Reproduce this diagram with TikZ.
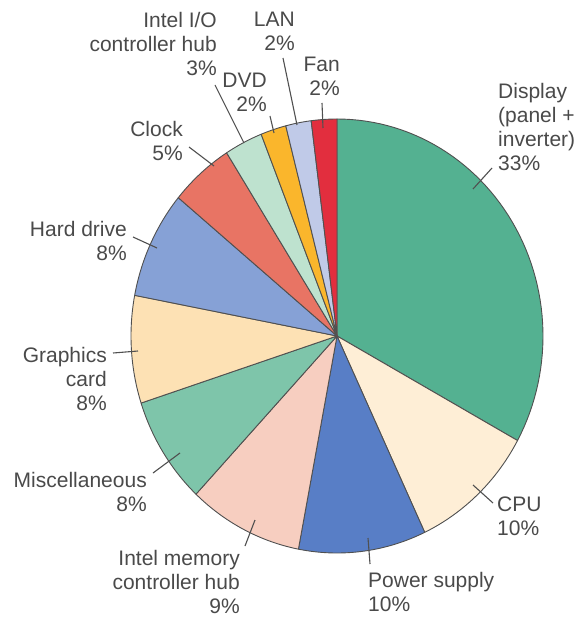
\documentclass[tikz,border=0pt]{standalone}
\usepackage{fontspec}
\setmainfont{Liberation Sans}
\definecolor{cDisplay}{RGB}{84,177,145}
\definecolor{cCPU}{RGB}{254,238,214}
\definecolor{cPower}{RGB}{88,126,198}
\definecolor{cMem}{RGB}{247,206,192}
\definecolor{cMisc}{RGB}{126,197,170}
\definecolor{cGraph}{RGB}{253,225,180}
\definecolor{cHDD}{RGB}{134,161,214}
\definecolor{cClock}{RGB}{232,116,100}
\definecolor{cIO}{RGB}{190,226,207}
\definecolor{cDVD}{RGB}{250,182,44}
\definecolor{cLAN}{RGB}{192,202,232}
\definecolor{cFan}{RGB}{226,46,62}
\definecolor{edge}{RGB}{80,80,80}
\definecolor{txt}{RGB}{74,74,74}
\tikzset{
  lbl/.style={inner sep=0pt, text=txt, font=\fontsize{21}{24}\selectfont},
  lblr/.style={lbl, anchor=north east, align=right},
  lbll/.style={lbl, anchor=north west, align=left},
  leader/.style={draw=edge, line width=1.1pt},
  wedge/.style={draw=edge, line width=0.9pt, line join=round}
}
\newcommand{\pieslice}[3]{%
  \path[wedge, fill=#1] (337,336) -- plot[domain=#2:#3, samples=60] ({337+206*cos(\x)},{336-217*sin(\x)}) -- cycle;}
\begin{document}
\begin{tikzpicture}[x=1pt,y=-1pt]
\useasboundingbox (0,0) rectangle (581,617);
\fill[white] (0,0) rectangle (581,617);
% slices
\pieslice{cDisplay}{90}{-28.8}
\pieslice{cCPU}{-28.8}{-64.8}
\pieslice{cPower}{-64.8}{-100.8}
\pieslice{cMem}{-100.8}{-133.2}
\pieslice{cMisc}{-133.2}{-162}
\pieslice{cGraph}{-162}{-190.8}
\pieslice{cHDD}{-190.8}{-219.6}
\pieslice{cClock}{-219.6}{-237.6}
\pieslice{cIO}{-237.6}{-248.4}
\pieslice{cDVD}{-248.4}{-255.6}
\pieslice{cLAN}{-255.6}{-262.8}
\pieslice{cFan}{-262.8}{-270}
% labels
\node[lblr] (io) at (217,11.8) {Intel I/O\\controller hub\\3\%};
\node[lblr] (lan) at (295,11.8) {LAN\\2\%};
\node[lblr] (dvd) at (267,72.8) {DVD\\2\%};
\node[lblr] (fan) at (340,56.8) {Fan\\2\%};
\node[lbll] (disp) at (498,82.8) {Display\\(panel +\\inverter)\\33\%};
\node[lblr] (clock) at (183,120.8) {Clock\\5\%};
\node[lblr] (hdd) at (127,220.8) {Hard drive\\8\%};
\node[lblr] (graph) at (107,346.8) {Graphics\\card\\8\%};
\node[lblr] (misc) at (147,471.8) {Miscellaneous\\8\%};
\node[lblr] (mem) at (240,550) {Intel memory\\controller hub\\9\%};
\node[lbll] (power) at (368,572) {Power supply\\10\%};
\node[lbll] (cpu) at (497,496.8) {CPU\\10\%};
% leader end points
\coordinate (ioA) at (215,85);   \coordinate (ioB) at (244,143);
\coordinate (lanA) at (283,58);  \coordinate (lanB) at (297,125);
\coordinate (dvdA) at (270,116); \coordinate (dvdB) at (274,133);
\coordinate (fanA) at (322,103); \coordinate (fanB) at (323,128);
\coordinate (dispA) at (492,168); \coordinate (dispB) at (473,189);
\coordinate (clockA) at (189,147); \coordinate (clockB) at (214,166);
\coordinate (hddA) at (133,237); \coordinate (hddB) at (157,248);
\coordinate (graphA) at (113,353); \coordinate (graphB) at (138,351);
\coordinate (miscA) at (153,473); \coordinate (miscB) at (180,453);
\coordinate (memA) at (245,546); \coordinate (memB) at (255,520);
\coordinate (powerA) at (370,564); \coordinate (powerB) at (368,538);
\coordinate (cpuA) at (493,503); \coordinate (cpuB) at (473,485);
\foreach \n in {io,lan,dvd,fan,disp,clock,hdd,graph,misc,mem,power,cpu}
  \draw[leader] (\n A) -- (\n B);
\end{tikzpicture}
\end{document}
